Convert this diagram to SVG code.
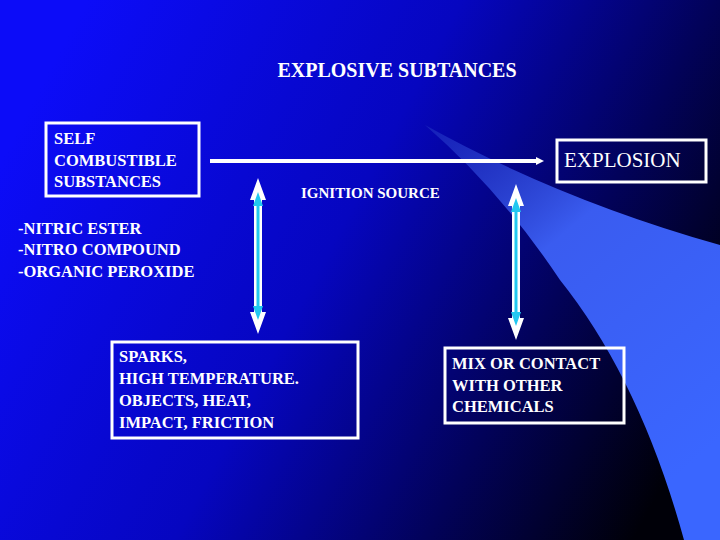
<svg xmlns="http://www.w3.org/2000/svg" width="720" height="540" viewBox="0 0 720 540">
<defs>
<linearGradient id="bg" x1="0" y1="0.3" x2="1" y2="0.7">
<stop offset="0" stop-color="#0c0cf8"/>
<stop offset="0.45" stop-color="#0606c0"/>
<stop offset="0.75" stop-color="#02025a"/>
<stop offset="1" stop-color="#000008"/>
</linearGradient>
<linearGradient id="sw" x1="0" y1="0" x2="0.6" y2="1">
<stop offset="0" stop-color="#2030c0" stop-opacity="0.6"/>
<stop offset="0.4" stop-color="#3a5cf0"/>
<stop offset="1" stop-color="#3a66ff"/>
</linearGradient>
<style>
text{font-family:'Liberation Serif','DejaVu Serif','Times New Roman',serif;fill:#fff}
.t{font-weight:bold;font-size:16.5px}
.box{fill:none;stroke:#fff;stroke-width:3}
</style>
<g id="dbl">
<polygon points="0,-78 -8,-56 -4,-56 -4,56 -8,56 0,78 8,56 4,56 4,-56 8,-56" fill="#fff"/>
<polygon points="0,-64 -5,-50 -1.5,-50 -1.5,50 -5,50 0,64 5,50 1.5,50 1.5,-50 5,-50" fill="#22c8f0"/>
</g>
</defs>
<rect width="720" height="540" fill="url(#bg)"/>
<path d="M425,125 Q560,200 720,245 L720,540 L684,540 Q640,380 560,280 Q500,190 425,125 Z" fill="url(#sw)"/>
<text class="t" x="397" y="77" text-anchor="middle" font-size="20" style="font-size:20px">EXPLOSIVE SUBTANCES</text>
<g id="connectors">
<line x1="210" y1="161" x2="536" y2="161" stroke="#fff" stroke-width="4"/>
<polygon points="536,157 544,161 536,165" fill="#fff"/>
<use href="#dbl" x="258" y="256"/>
<use href="#dbl" x="516" y="262"/>
</g>
<g id="self">
<rect class="box" x="46" y="123" width="153" height="73"/>
<text class="t" x="54" y="144">SELF</text>
<text class="t" x="54" y="166">COMBUSTIBLE</text>
<text class="t" x="54" y="187">SUBSTANCES</text>
</g>
<g id="explosion">
<rect class="box" x="557" y="140" width="149" height="42"/>
<text x="564" y="167" style="font-size:21px">EXPLOSION</text>
</g>
<g id="ignition">
<text class="t" x="301" y="198" style="font-size:15px">IGNITION SOURCE</text>
</g>
<g id="list">
<text class="t" x="18" y="234">-NITRIC ESTER</text>
<text class="t" x="18" y="255">-NITRO COMPOUND</text>
<text class="t" x="18" y="277">-ORGANIC PEROXIDE</text>
</g>
<g id="sparks">
<rect class="box" x="112" y="342" width="246" height="96"/>
<text class="t" x="119" y="362">SPARKS,</text>
<text class="t" x="119" y="384">HIGH TEMPERATURE.</text>
<text class="t" x="119" y="406">OBJECTS, HEAT,</text>
<text class="t" x="119" y="428">IMPACT, FRICTION</text>
</g>
<g id="mix">
<rect class="box" x="445" y="348" width="179" height="75"/>
<text class="t" x="452" y="369">MIX OR CONTACT</text>
<text class="t" x="452" y="391">WITH OTHER</text>
<text class="t" x="452" y="412">CHEMICALS</text>
</g>
</svg>
